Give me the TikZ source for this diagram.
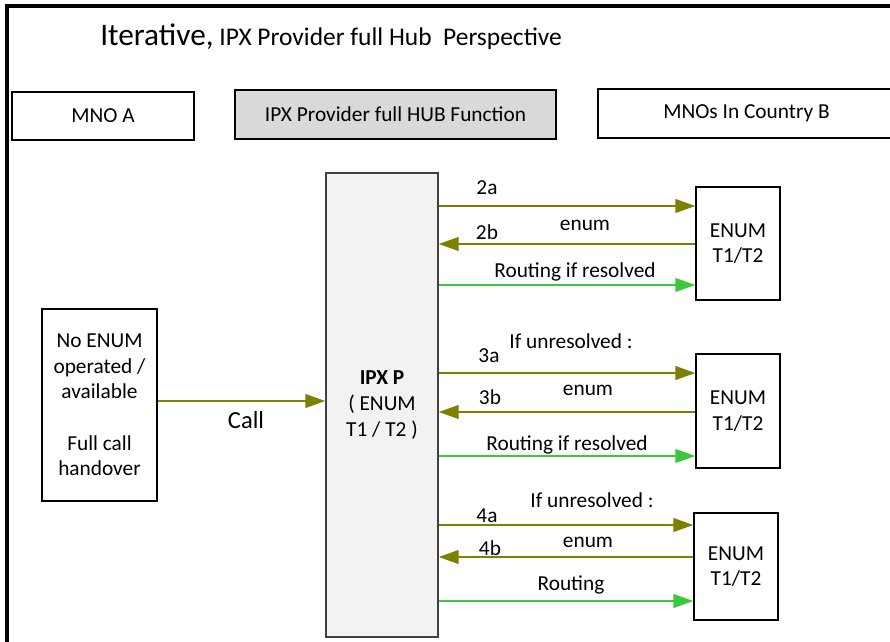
\documentclass[tikz,border=0pt]{standalone}
\usepackage{fontspec}
\setmainfont{Carlito}
\usetikzlibrary{arrows.meta}
\definecolor{olivearr}{HTML}{808000}
\definecolor{greenarr}{HTML}{3CC83C}
\definecolor{hubgray}{HTML}{D9D9D9}
\definecolor{ipxgray}{HTML}{F2F2F2}
\definecolor{ipxborder}{HTML}{404040}
\tikzset{
  box/.style={draw=black, line width=0.8pt, rectangle, inner sep=0pt, align=center, font=\fontsize{16}{19.2}\selectfont},
  lbl/.style={inner sep=0pt, font=\fontsize{16}{19.2}\selectfont},
  oarrow/.style={draw=olivearr, line width=2.2pt, -{Triangle[length=15pt,width=10pt]}},
  garrow/.style={draw=greenarr, line width=2.2pt, -{Triangle[length=15pt,width=10pt]}},
}
\begin{document}
\begin{tikzpicture}[x=0.75pt,y=-0.75pt]
\useasboundingbox (0,0) rectangle (890,642);
% frame
\draw[line width=2.3pt] (7,650) -- (7,6) -- (895,6);
% title
\node[anchor=base west, inner sep=0pt] (title) at (100,46) {{\fontsize{23.5}{28}\selectfont Iterative,}{\fontsize{19.1}{22}\selectfont\ IPX Provider full Hub\ \ Perspective}};
% header boxes
\node[box, minimum width=182*0.75pt, minimum height=48*0.75pt] (mnoa) at (103,116) {MNO A};
\node[box, fill=hubgray, minimum width=321*0.75pt, minimum height=49*0.75pt] (hub) at (395.5,114.5) {IPX Provider full HUB Function};
\node[box, minimum width=297*0.75pt, minimum height=49*0.75pt] (mnob) at (746.5,113.5) {MNOs In Country B};
% main boxes
\node[box, draw=ipxborder, fill=ipxgray, minimum width=112*0.75pt, minimum height=464*0.75pt, font=\fontsize{16}{19.5}\selectfont] (ipx) at (382,405) {\textbf{IPX P}\\( ENUM\\T1 / T2 )};
\node[box, minimum width=115*0.75pt, minimum height=192*0.75pt] (mnoabox) at (99.5,405) {No ENUM\\operated /\\available\\\mbox{}\\Full call\\handover};
\node[box, minimum width=84*0.75pt, minimum height=113*0.75pt] (enum1) at (738,243.5) {ENUM\\T1/T2};
\node[box, minimum width=84*0.75pt, minimum height=114*0.75pt] (enum2) at (738,411) {ENUM\\T1/T2};
\node[box, minimum width=84*0.75pt, minimum height=107*0.75pt] (enum3) at (736,566.5) {ENUM\\T1/T2};
% row coordinates
\coordinate (rcall) at (0,401);
\coordinate (r2a) at (0,206);
\coordinate (r2b) at (0,244);
\coordinate (r2c) at (0,285);
\coordinate (r3a) at (0,373);
\coordinate (r3b) at (0,412);
\coordinate (r3c) at (0,456);
\coordinate (r4a) at (0,525);
\coordinate (r4b) at (0,557);
\coordinate (r4c) at (0,601);
% call
\draw[oarrow] (mnoabox.east |- rcall) -- (ipx.west |- rcall);
\node[lbl, font=\fontsize{18.4}{22}\selectfont] (call) at (246,420) {Call};
% group 1
\draw[oarrow] (ipx.east |- r2a) -- (enum1.west |- r2a);
\draw[oarrow] (enum1.west |- r2b) -- (ipx.east |- r2b);
\draw[garrow] (ipx.east |- r2c) -- (enum1.west |- r2c);
\node[lbl] (l2a) at (487,188) {2a};
\node[lbl] (l2b) at (487,232) {2b};
\node[lbl] (e2) at (585,225) {enum};
\node[lbl] (rt2) at (575,272) {Routing if resolved};
% group 2
\draw[oarrow] (ipx.east |- r3a) -- (enum2.west |- r3a);
\draw[oarrow] (enum2.west |- r3b) -- (ipx.east |- r3b);
\draw[garrow] (ipx.east |- r3c) -- (enum2.west |- r3c);
\node[lbl] (u3) at (571,341) {If unresolved :};
\node[lbl] (l3a) at (489,356) {3a};
\node[lbl] (l3b) at (490,397) {3b};
\node[lbl] (e3) at (588,390) {enum};
\node[lbl] (rt3) at (567,445) {Routing if resolved};
% group 3
\draw[oarrow] (ipx.east |- r4a) -- (enum3.west |- r4a);
\draw[oarrow] (enum3.west |- r4b) -- (ipx.east |- r4b);
\draw[garrow] (ipx.east |- r4c) -- (enum3.west |- r4c);
\node[lbl] (u4) at (592,500) {If unresolved :};
\node[lbl] (l4a) at (487,516) {4a};
\node[lbl] (l4b) at (490,548) {4b};
\node[lbl] (e4) at (588,542) {enum};
\node[lbl] (rt4) at (571,585) {Routing};
\end{tikzpicture}
\end{document}
